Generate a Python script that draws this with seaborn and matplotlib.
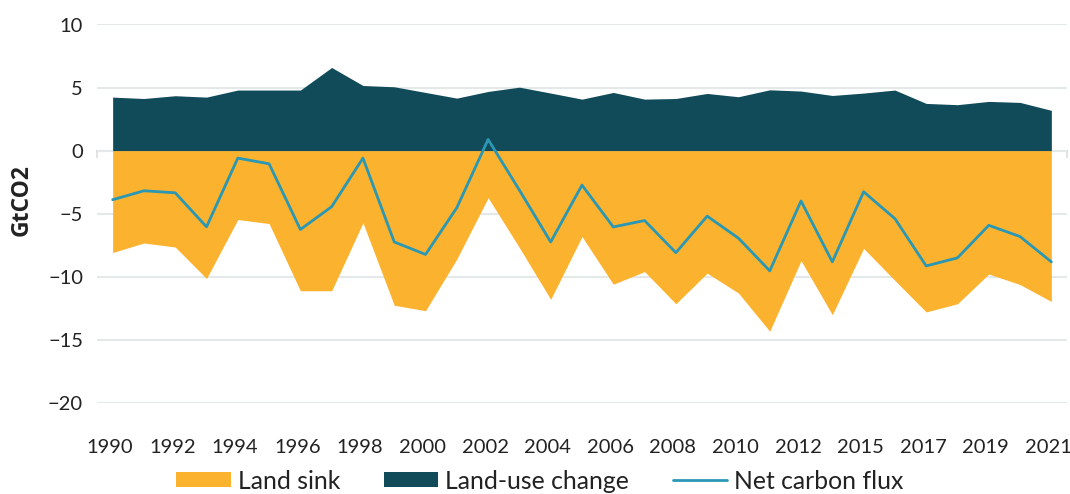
import numpy as np
import matplotlib
matplotlib.use("Agg")
import matplotlib.pyplot as plt
import matplotlib.transforms as mtransforms
import seaborn as sns
from matplotlib.patches import Patch
from matplotlib.lines import Line2D

years = ["1990", "1991", "1992", "1993", "1994", "1995", "1996", "1997", "1998", "1999",
         "2000", "2001", "2002", "2003", "2004", "2005", "2006", "2007", "2008", "2009",
         "2010", "2011", "2012", "2013", "2015", "2016", "2017", "2018", "2019", "2020", "2021"]
land_use_change = [4.24, 4.13, 4.35, 4.24, 4.80, 4.80, 4.80, 6.59, 5.16, 5.06,
                   4.61, 4.16, 4.69, 5.03, 4.56, 4.08, 4.61, 4.08, 4.13, 4.53,
                   4.27, 4.82, 4.72, 4.37, 4.56, 4.80, 3.74, 3.64, 3.90, 3.82, 3.19]
land_sink = [-8.09, -7.33, -7.65, -10.15, -5.47, -5.79, -11.12, -11.12, -5.73, -12.27,
             -12.70, -8.60, -3.74, -7.70, -11.80, -6.82, -10.60, -9.60, -12.15, -9.72,
             -11.30, -14.33, -8.73, -13.02, -7.76, -10.30, -12.80, -12.15, -9.79, -10.63, -11.97]
net_flux = [-3.90, -3.19, -3.35, -6.05, -0.60, -1.05, -6.26, -4.45, -0.60, -7.25,
            -8.24, -4.53, 0.88, -3.14, -7.25, -2.74, -6.06, -5.55, -8.10, -5.20,
            -6.95, -9.54, -4.00, -8.83, -3.27, -5.40, -9.15, -8.51, -5.93, -6.82, -8.83]
y_ticks = [-20, -15, -10, -5, 0, 5, 10]
legend_labels = ["Land sink", "Land-use change", "Net carbon flux"]

ORANGE = "#FBB22E"
DARK = "#114B5A"
LINE = "#2A98B5"
GRID = "#E4E8E8"
TEXT = "#222222"

sns.set_theme(style="white")
plt.rcParams["font.family"] = ["Lato", "DejaVu Sans"]

fig = plt.figure(figsize=(10.7, 4.94), dpi=100)
ax = fig.add_axes([97 / 1070, 1 - 402.7 / 494, 970 / 1070, 378.2 / 494])

x = np.arange(len(years))
ax.fill_between(x, 0, land_sink, color=ORANGE, lw=0, zorder=2)
ax.fill_between(x, 0, land_use_change, color=DARK, lw=0, zorder=2)
sns.lineplot(x=x, y=net_flux, color=LINE, lw=2.0, ax=ax, zorder=4)

ax.set_xlim(-0.5, len(years) - 0.5)
ax.set_ylim(-20, 10)
ax.set_yticks(y_ticks)
ax.set_yticklabels([str(v).replace("-", "\u2212") for v in y_ticks])
ax.grid(axis="y", color=GRID, lw=1.5, zorder=0)
ax.grid(axis="x", visible=False)
ax.set_axisbelow(True)

xt = x[::2]
ax.set_xticks(xt)
ax.set_xticklabels([years[i] for i in xt])
ax.tick_params(axis="x", length=0, pad=26, labelsize=14.5, labelcolor=TEXT)
ax.tick_params(axis="y", length=0, pad=10, labelsize=14.5, labelcolor=TEXT)
shift = mtransforms.ScaledTranslation(-3 / 100, 0, fig.dpi_scale_trans)
for lab in ax.get_xticklabels():
    lab.set_transform(lab.get_transform() + shift)
for s in ax.spines.values():
    s.set_visible(False)

ax.set_ylabel("GtCO2", fontsize=16.5, fontweight="bold", color=TEXT, family="Open Sans")
ax.yaxis.set_label_coords(-0.065, 0.536)

sec = ax.secondary_xaxis(2 / 3)
sec.set_xticks(np.arange(-0.5, len(years), 1))
sec.set_xticklabels([])
sec.tick_params(axis="x", direction="in", length=5, width=1.5, color="#E2E4E2",
                labeltop=False, labelbottom=False)
for s in sec.spines.values():
    s.set_color("#D8DCDC")
    s.set_linewidth(1.5)

handles = [Patch(facecolor=ORANGE, edgecolor="none"),
           Patch(facecolor=DARK, edgecolor="none"),
           Line2D([], [], color=LINE, lw=2.0)]
fig.legend(handles, legend_labels, loc="center", bbox_to_anchor=(540 / 1070, 1 - 481 / 494),
           ncol=3, frameon=False, fontsize=17.8, handlelength=2.2, handleheight=0.55,
           handletextpad=0.3, columnspacing=1.75, labelcolor=TEXT)

fig.savefig("out.png", dpi=100)
